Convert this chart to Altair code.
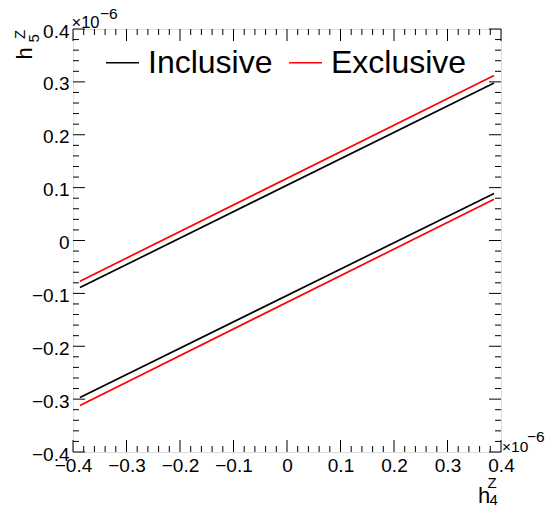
import altair as alt
import pandas as pd

# ---- data (units of 1e-6) ----
x_ends = [-0.387, 0.387]
incl_upper = [-0.089, 0.298]
incl_lower = [-0.297, 0.089]
excl_upper = [-0.077, 0.312]
excl_lower = [-0.312, 0.078]

major_ticks = [-0.4, -0.3, -0.2, -0.1, 0.0, 0.1, 0.2, 0.3, 0.4]
minor_ticks = [-0.38, -0.36, -0.34, -0.32, -0.28, -0.26, -0.24, -0.22,
               -0.18, -0.16, -0.14, -0.12, -0.08, -0.06, -0.04, -0.02,
               0.02, 0.04, 0.06, 0.08, 0.12, 0.14, 0.16, 0.18,
               0.22, 0.24, 0.26, 0.28, 0.32, 0.34, 0.36, 0.38]

series_names = ["Inclusive", "Exclusive"]
series_colors = ["black", "#ff0000"]

W, H = 428, 423
FONT = "Liberation Sans"

rows = []
for name, seg, ys in [("Inclusive", "iu", incl_upper), ("Inclusive", "il", incl_lower),
                      ("Exclusive", "eu", excl_upper), ("Exclusive", "el", excl_lower)]:
    for xv, yv in zip(x_ends, ys):
        rows.append({"x": xv, "y": yv, "series": name, "seg": seg})
df = pd.DataFrame(rows)

xs = alt.Scale(domain=[-0.4, 0.4], nice=False, zero=False)
ys_ = alt.Scale(domain=[-0.4, 0.4], nice=False, zero=False)

lbl = "datum.value == 0 ? '0' : format(datum.value, '.1f')"

lines = alt.Chart(df).mark_line(strokeWidth=1.7, clip=True).encode(
    x=alt.X("x:Q", scale=xs, axis=alt.Axis(
        values=major_ticks, labelExpr=lbl, tickSize=0, domain=False, grid=False,
        labelFont=FONT, labelFontSize=19, labelColor="black", labelPadding=4,
        labelFlush=False, labelOverlap=False, title=None)),
    y=alt.Y("y:Q", scale=ys_, axis=alt.Axis(
        values=major_ticks, labelExpr=lbl, tickSize=0, domain=False, grid=False,
        labelFont=FONT, labelFontSize=19, labelColor="black", labelPadding=4,
        labelOffset=2, labelFlush=False, labelOverlap=False, title=None)),
    color=alt.Color("series:N", scale=alt.Scale(domain=series_names, range=series_colors),
                    legend=alt.Legend(
                        orient="none", legendX=32, legendY=16, direction="horizontal",
                        title=None, symbolType="stroke", symbolSize=1089,
                        symbolStrokeWidth=1.5, labelFontSize=32, labelFont=FONT,
                        labelColor="black", labelOffset=8, columnPadding=13,
                        padding=0, labelLimit=400)),
    detail="seg:N",
)

maj = pd.DataFrame({"t": major_ticks})
mnr = pd.DataFrame({"t": minor_ticks})

def tick_layers(data, L):
    base = alt.Chart(data).mark_rule(color="black", strokeWidth=1)
    return [
        base.encode(x=alt.X("t:Q", scale=xs), y=alt.value(H), y2=alt.value(H - L)),
        base.encode(x=alt.X("t:Q", scale=xs), y=alt.value(0), y2=alt.value(L)),
        base.encode(y=alt.Y("t:Q", scale=ys_), x=alt.value(0), x2=alt.value(L)),
        base.encode(y=alt.Y("t:Q", scale=ys_), x=alt.value(W), x2=alt.value(W - L)),
    ]

def txt(s, x, y, size, angle=0):
    return alt.Chart(pd.DataFrame({"s": [s]})).mark_text(
        text=s, font=FONT, fontSize=size, color="black", align="left",
        baseline="alphabetic", angle=angle).encode(x=alt.value(x), y=alt.value(y))

annots = [
    # x title h_4^Z
    txt("h", 405, 474, 22), txt("Z", 414.5, 459, 15), txt("4", 416.5, 476, 15),
    # y title h_5^Z (rotated)
    txt("h", -41.3, 30.5, 22, 270), txt("Z", -48, 10, 15, 270), txt("5", -34, 13.5, 15, 270),
    # exponent markers
    txt("×10", -1.5, -1.5, 16.5), txt("−6", 27, -10.5, 15.5),
    txt("×10", 429, 423, 15.5), txt("−6", 454, 413, 15.5),
]

chart = alt.layer(lines, *tick_layers(maj, 12), *tick_layers(mnr, 6), *annots).properties(
    width=W, height=H,
    autosize=alt.AutoSizeParams(type="none"),
    padding={"left": 73, "top": 29, "right": 50, "bottom": 57},
).configure_view(stroke="black", strokeWidth=1).configure(background="white")

chart.save("out.html", embed_options={"renderer": "svg", "actions": False})
